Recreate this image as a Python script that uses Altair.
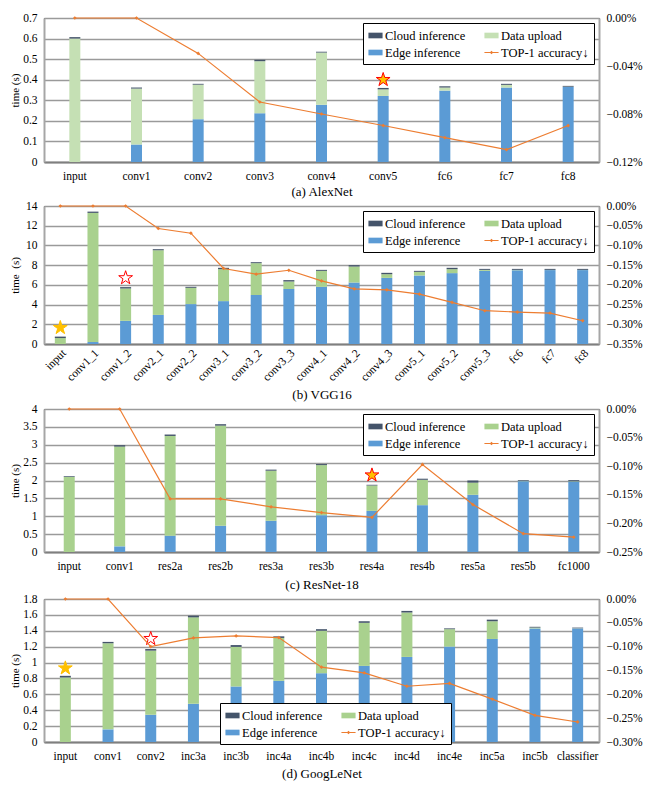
import altair as alt
import pandas as pd

FONT = "Liberation Serif"
EDGE_C = "#5B9BD5"
CLOUD_C = "#44546A"
ACC_C = "#ED7D31"
UP_LIGHT = "#C5E0B4"
UP_C = "#A9D18E"

series_names = ["Cloud inference", "Data upload", "Edge inference", "TOP-1 accuracy↓"]

# (a) AlexNet
alex_layers = ["input", "conv1", "conv2", "conv3", "conv4", "conv5", "fc6", "fc7", "fc8"]
alex_edge = [0, 0.085, 0.208, 0.237, 0.278, 0.321, 0.347, 0.362, 0.365]
alex_upload = [0.600, 0.272, 0.168, 0.253, 0.254, 0.032, 0.015, 0.013, 0.001]
alex_cloud = [0.007, 0.005, 0.004, 0.007, 0.004, 0.007, 0.006, 0.005, 0.004]
alex_acc = [0, 0, -0.0295, -0.070, -0.080, -0.0896, -0.0997, -0.1097, -0.0896]
alex_yticks = [0, 0.1, 0.2, 0.3, 0.4, 0.5, 0.6, 0.7]
alex_accticks = [0, -0.04, -0.08, -0.12]
alex_star_layers = ["conv5"]
alex_star_vals = [0.40]
alex_star_fill = ["#FFC000"]
alex_star_stroke = ["#FF0000"]

# (b) VGG16
vgg_layers = ["input", "conv1_1", "conv1_2", "conv2_1", "conv2_2", "conv3_1", "conv3_2",
              "conv3_3", "conv4_1", "conv4_2", "conv4_3", "conv5_1", "conv5_2", "conv5_3",
              "fc6", "fc7", "fc8"]
vgg_edge = [0, 0.2, 2.35, 2.95, 4.05, 4.35, 4.97, 5.58, 5.80, 6.24, 6.71, 6.95, 7.19, 7.42, 7.48, 7.50, 7.50]
vgg_upload = [0.60, 13.10, 3.28, 6.56, 1.65, 3.24, 3.23, 0.76, 1.62, 1.62, 0.37, 0.37, 0.40, 0.10, 0.04, 0.02, 0.02]
vgg_cloud = [0.15, 0.13, 0.14, 0.11, 0.10, 0.14, 0.10, 0.14, 0.10, 0.14, 0.14, 0.10, 0.14, 0.10, 0.10, 0.10, 0.10]
vgg_acc = [0, 0, 0, -0.057, -0.069, -0.1585, -0.173, -0.163, -0.190, -0.210, -0.2125,
           -0.2234, -0.2445, -0.2656, -0.269, -0.2715, -0.291]
vgg_yticks = [0, 2, 4, 6, 8, 10, 12, 14]
vgg_accticks = [0, -0.05, -0.10, -0.15, -0.20, -0.25, -0.30, -0.35]
vgg_star_layers = ["input", "conv1_2"]
vgg_star_vals = [1.65, 6.7]
vgg_star_fill = ["#FFC000", "white"]
vgg_star_stroke = ["#FFC000", "#FF0000"]

# (c) ResNet-18
res_layers = ["input", "conv1", "res2a", "res2b", "res3a", "res3b", "res4a", "res4b", "res5a", "res5b", "fc1000"]
res_edge = [0, 0.158, 0.456, 0.735, 0.874, 1.03, 1.15, 1.31, 1.60, 1.98, 1.97]
res_upload = [2.10, 2.79, 2.79, 2.80, 1.40, 1.40, 0.71, 0.71, 0.34, 0.01, 0.01]
res_cloud = [0.02, 0.04, 0.04, 0.04, 0.03, 0.03, 0.02, 0.03, 0.06, 0.02, 0.03]
res_acc = [0, 0, -0.157, -0.157, -0.171, -0.181, -0.1895, -0.097, -0.167, -0.218, -0.224]
res_yticks = [0, 0.5, 1, 1.5, 2, 2.5, 3, 3.5, 4]
res_accticks = [0, -0.05, -0.10, -0.15, -0.20, -0.25]
res_star_layers = ["res4a"]
res_star_vals = [2.15]
res_star_fill = ["#FFC000"]
res_star_stroke = ["#FF0000"]

# (d) GoogLeNet
goog_layers = ["input", "conv1", "conv2", "inc3a", "inc3b", "inc4a", "inc4b", "inc4c",
               "inc4d", "inc4e", "inc5a", "inc5b", "classifier"]
goog_edge = [0, 0.159, 0.343, 0.481, 0.699, 0.77, 0.866, 0.958, 1.071, 1.201, 1.297, 1.43, 1.43]
goog_upload = [0.812, 1.084, 0.807, 1.088, 0.498, 0.54, 0.534, 0.542, 0.559, 0.219, 0.223, 0.01, 0.002]
goog_cloud = [0.021, 0.017, 0.02, 0.021, 0.023, 0.02, 0.02, 0.02, 0.02, 0.01, 0.02, 0.01, 0.008]
goog_acc = [0, 0, -0.0998, -0.0816, -0.0774, -0.081, -0.143, -0.155, -0.183, -0.177, -0.210, -0.244, -0.258]
goog_yticks = [0, 0.2, 0.4, 0.6, 0.8, 1, 1.2, 1.4, 1.6, 1.8]
goog_accticks = [0, -0.05, -0.10, -0.15, -0.20, -0.25, -0.30]
goog_star_layers = ["input", "conv2"]
goog_star_vals = [0.93, 1.30]
goog_star_fill = ["#FFC000", "white"]
goog_star_stroke = ["#FFC000", "#FF0000"]

STAR = ("M0,-1L0.2245,-0.309L0.9511,-0.309L0.3633,0.118L0.5878,0.809L0,0.382"
        "L-0.5878,0.809L-0.3633,0.118L-0.9511,-0.309L-0.2245,-0.309Z")
RECT = "M-1,-0.4L1,-0.4L1,0.4L-1,0.4Z"
LINE_SYM = "M-1,-0.07L1,-0.07L1,0.07L-1,0.07ZM0,-0.25L0.25,0L0,0.25L-0.25,0Z"

WIDTH = 555


def panel(title, ytitle, layers, edge, upload, cloud, acc, yticks, accticks, up_color,
          s_layers, s_vals, s_fill, s_stroke, height, angle, title_pad, legend_kw):
    rows = []
    for i, name in enumerate(layers):
        rows.append({"layer": name, "series": "Edge inference", "t": edge[i], "o": 0})
        rows.append({"layer": name, "series": "Data upload", "t": upload[i], "o": 1})
        rows.append({"layer": name, "series": "Cloud inference", "t": cloud[i], "o": 2})
    bars_df = pd.DataFrame(rows)
    acc_df = pd.DataFrame({"layer": layers, "acc": acc})
    star_df = pd.DataFrame({"layer": s_layers, "t": s_vals, "fill": s_fill, "stroke": s_stroke})
    leg_df = pd.DataFrame({"series": series_names})

    color_scale = alt.Scale(domain=series_names, range=[CLOUD_C, up_color, EDGE_C, ACC_C])
    shape_scale = alt.Scale(domain=series_names, range=[RECT, RECT, RECT, LINE_SYM])
    xscale = alt.Scale(domain=layers, paddingInner=0, paddingOuter=0)
    xaxis = alt.Axis(title=title, labelAngle=angle, labelPadding=8 if angle == 0 else 3,
                     titlePadding=title_pad, titleFontSize=13, labelFontSize=11.5,
                     domainColor="#7f7f7f", domainWidth=2, ticks=False, grid=False)
    x_main = alt.X("layer:N", sort=layers, scale=xscale, axis=xaxis)

    yscale = alt.Scale(domain=[0, yticks[-1]], nice=False, zero=True)
    yaxis = alt.Axis(title=ytitle, values=yticks, format="~g", grid=True, gridColor="#9a9a9a",
                     gridWidth=1.5, ticks=False, labelPadding=7, minExtent=22, titlePadding=2,
                     titleFontSize=11, labelFontSize=11.5, domainColor="#a6a6a6", domainWidth=2)
    accscale = alt.Scale(domain=[accticks[-1], 0], nice=False, zero=False)
    accaxis = alt.Axis(orient="right", title=None, values=accticks,
                       labelExpr="format(datum.value, '.2f') + '%'", grid=False, ticks=False,
                       labelPadding=7, labelFontSize=11.5, domainColor="#a6a6a6", domainWidth=2)

    legend = alt.Legend(title=None, columns=2, direction="horizontal", columnPadding=18,
                        rowPadding=3, padding=5, strokeColor="black", fillColor="white",
                        symbolSize=200, symbolStrokeWidth=0, labelFont=FONT, labelFontSize=12.5,
                        labelOffset=2, labelLimit=200, **legend_kw)

    bars = alt.Chart(bars_df).mark_bar(size=11).encode(
        x=x_main,
        y=alt.Y("t:Q", stack="zero", scale=yscale, axis=yaxis),
        color=alt.Color("series:N", scale=color_scale, legend=legend),
        order=alt.Order("o:Q"),
    )
    stars = alt.Chart(star_df).mark_point(shape=STAR, size=210, filled=True, opacity=1,
                                          strokeWidth=1).encode(
        x=x_main,
        y=alt.Y("t:Q", scale=yscale, axis=yaxis),
        fill=alt.Fill("fill:N", scale=None),
        stroke=alt.Stroke("stroke:N", scale=None),
    )
    leg = alt.Chart(leg_df).mark_point(filled=True, opacity=1).encode(
        color=alt.Color("series:N", scale=color_scale, legend=legend),
        shape=alt.Shape("series:N", scale=shape_scale, legend=legend),
    ).transform_filter("false")

    line = alt.Chart(acc_df).mark_line(color=ACC_C, strokeWidth=1.2).encode(
        x=x_main,
        y=alt.Y("acc:Q", scale=accscale, axis=accaxis),
    )
    pts = alt.Chart(acc_df).mark_point(shape="diamond", size=14, filled=True, opacity=1,
                                       color=ACC_C).encode(
        x=x_main,
        y=alt.Y("acc:Q", scale=accscale, axis=accaxis),
    )
    left = alt.layer(bars, stars, leg)
    right = alt.layer(line, pts)
    return alt.layer(left, right).resolve_scale(y="independent").properties(
        width=WIDTH, height=height)


pa = panel("(a) AlexNet", "time (s)", alex_layers, alex_edge, alex_upload, alex_cloud, alex_acc,
           alex_yticks, alex_accticks, UP_LIGHT, alex_star_layers, alex_star_vals,
           alex_star_fill, alex_star_stroke, 144, 0, 4, {"orient": "top-right", "offset": 5})
pb = panel("(b) VGG16", "time\u2002(s)", vgg_layers, vgg_edge, vgg_upload, vgg_cloud, vgg_acc,
           vgg_yticks, vgg_accticks, UP_C, vgg_star_layers, vgg_star_vals,
           vgg_star_fill, vgg_star_stroke, 138, -45, 5, {"orient": "top-right", "offset": 5})
pc = panel("(c) ResNet-18", "time (s)", res_layers, res_edge, res_upload, res_cloud, res_acc,
           res_yticks, res_accticks, UP_C, res_star_layers, res_star_vals,
           res_star_fill, res_star_stroke, 143, 0, 7, {"orient": "top-right", "offset": 5})
pd_ = panel("(d) GoogLeNet", "time (s)", goog_layers, goog_edge, goog_upload, goog_cloud, goog_acc,
            goog_yticks, goog_accticks, UP_C, goog_star_layers, goog_star_vals,
            goog_star_fill, goog_star_stroke, 143, 0, 6,
            {"orient": "none", "legendX": 176, "legendY": 104})

chart = alt.vconcat(pa, pb, pc, pd_, spacing=0).resolve_scale(
    color="independent", shape="independent"
).properties(
    padding={"left": 0, "top": 3, "right": 0, "bottom": 0}
).configure(
    font=FONT
).configure_axis(
    labelFont=FONT, titleFont=FONT, labelColor="black", titleColor="black",
    titleFontWeight="normal"
).configure_view(
    stroke="#404040", strokeWidth=1
).configure_legend(
    labelColor="black"
)

chart.save("out.html", embed_options={"renderer": "svg", "actions": False})
